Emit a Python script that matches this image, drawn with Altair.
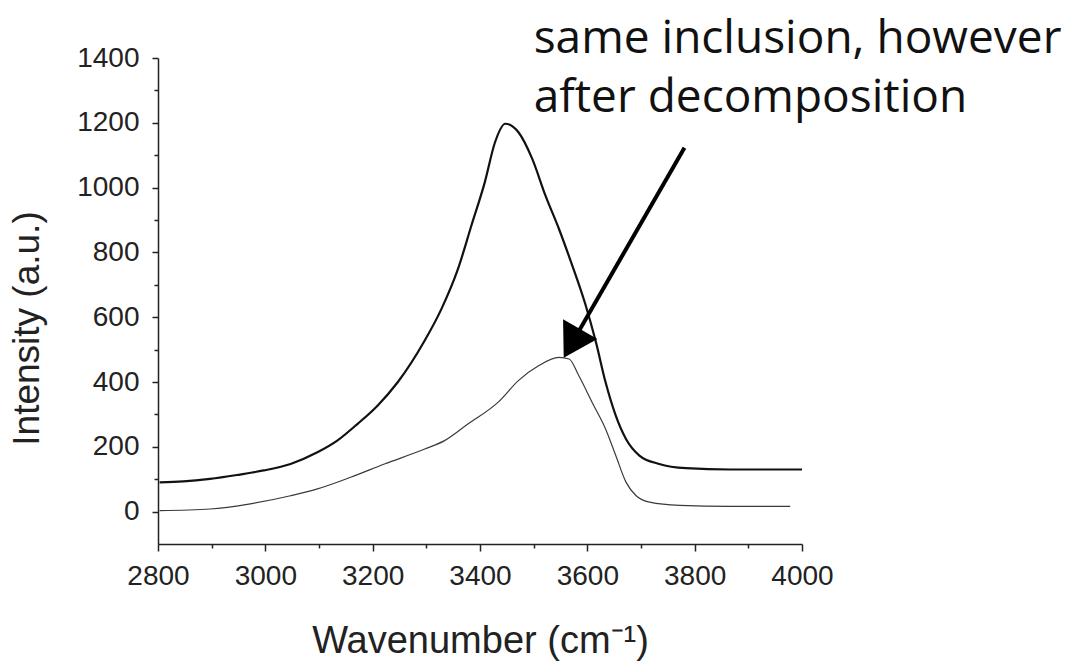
import altair as alt
import pandas as pd

# ---- data ----
upper_x = [2803, 2847, 2897, 2947, 2997, 3047, 3097, 3134, 3172, 3209, 3247, 3297,
           3328, 3359, 3384, 3409, 3428, 3447, 3472, 3497, 3522, 3547, 3572, 3597,
           3616, 3634, 3653, 3672, 3697, 3734, 3784, 3866, 4000]
upper_y = [90, 93, 101, 113, 127, 147, 183, 219, 271, 327, 400, 528,
           625, 749, 883, 1017, 1140, 1197, 1170, 1090, 975, 873, 759, 636,
           523, 399, 296, 224, 173, 147, 134, 130, 130]

lower_x = [2803, 2897, 2972, 3047, 3097, 3159, 3222, 3297, 3334, 3378, 3434, 3472,
           3509, 3547, 3566, 3584, 3609, 3634, 3653, 3672, 3691, 3716, 3772, 3866, 3978]
lower_y = [3, 8, 24, 49, 70, 106, 147, 193, 219, 271, 338, 405,
           450, 476, 471, 420, 337, 255, 173, 91, 49, 29, 19, 16, 16]

x_major = [2800, 3000, 3200, 3400, 3600, 3800, 4000]
x_minor = [2900, 3100, 3300, 3500, 3700, 3900]
y_major = [0, 200, 400, 600, 800, 1000, 1200, 1400]
y_minor = [100, 300, 500, 700, 900, 1100, 1300]

annot_lines = ["same inclusion, however", "after decomposition"]
annot_x = [3500, 3500]
annot_y = [1415, 1234]

arrow_x = [3781, 3565]   # shaft tail, shaft end
arrow_y = [1123, 502]
head_x = [3556]
head_y = [475]

# ---- tables ----
df_up = pd.DataFrame({"wavenumber": upper_x, "intensity": upper_y})
df_low = pd.DataFrame({"wavenumber": lower_x, "intensity": lower_y})
df_txt = pd.DataFrame({"x": annot_x, "y": annot_y, "label": annot_lines})
df_shaft = pd.DataFrame({"x": [arrow_x[0]], "y": [arrow_y[0]],
                         "x2": [arrow_x[1]], "y2": [arrow_y[1]]})
df_head = pd.DataFrame({"x": head_x, "y": head_y})

xscale = alt.Scale(domain=[2800, 4000], nice=False, zero=False)
yscale = alt.Scale(domain=[-100, 1400], nice=False, zero=False)

INK = "#222222"
AX_FONT = "Liberation Sans"

major_x = alt.Axis(orient="bottom", values=x_major, format="d", grid=False,
                   tickSize=7, tickWidth=1.5, tickColor=INK,
                   domainColor=INK, domainWidth=1.5,
                   labelFont=AX_FONT, labelFontSize=28, labelColor=INK,
                   labelPadding=11, labelOverlap=False, labelFlush=False,
                   title="Wavenumber (cm⁻¹)", titleFont=AX_FONT,
                   titleFontSize=38, titleFontWeight="normal", titleColor=INK,
                   titleBaseline="alphabetic", titleY=108)
major_y = alt.Axis(orient="left", values=y_major, format="d", grid=False,
                   tickSize=6, tickWidth=1.5, tickColor=INK,
                   domainColor=INK, domainWidth=1.5,
                   labelFont=AX_FONT, labelFontSize=28, labelColor=INK,
                   labelPadding=13, labelOverlap=False, labelFlush=False,
                   title="Intensity (a.u.)", titleFont=AX_FONT,
                   titleFontSize=37, titleFontWeight="normal", titleColor=INK,
                   titleAngle=270, titleAlign="center", titleBaseline="alphabetic",
                   titleX=-120, titleY=270)
minor_x = alt.Axis(orient="bottom", values=x_minor, labels=False, domain=False,
                   grid=False, tickSize=4, tickWidth=1.5, tickColor=INK, title=None)
minor_y = alt.Axis(orient="left", values=y_minor, labels=False, domain=False,
                   grid=False, tickSize=4, tickWidth=1.5, tickColor=INK, title=None)

upper = alt.Chart(df_up).mark_line(color="#111111", strokeWidth=2.2,
                                   interpolate="monotone").encode(
    x=alt.X("wavenumber:Q", scale=xscale, axis=major_x),
    y=alt.Y("intensity:Q", scale=yscale, axis=major_y),
)
lower = alt.Chart(df_low).mark_line(color="#3a3a3a", strokeWidth=1.2,
                                    interpolate="monotone").encode(
    x=alt.X("wavenumber:Q", scale=xscale, axis=minor_x),
    y=alt.Y("intensity:Q", scale=yscale, axis=minor_y),
)
shaft = alt.Chart(df_shaft).mark_rule(color="black", strokeWidth=4).encode(
    x=alt.X("x:Q", scale=xscale, axis=None),
    y=alt.Y("y:Q", scale=yscale, axis=None),
    x2="x2:Q", y2="y2:Q",
)
head = alt.Chart(df_head).mark_point(shape="M0,0 L0.6,1 L-0.6,1 Z", filled=True,
                                     size=4356, angle=210, color="black",
                                     opacity=1, strokeWidth=0).encode(
    x=alt.X("x:Q", scale=xscale, axis=None),
    y=alt.Y("y:Q", scale=yscale, axis=None),
)
text = alt.Chart(df_txt).mark_text(align="left", baseline="alphabetic",
                                   font="Open Sans", fontSize=46,
                                   color="#111111").encode(
    x=alt.X("x:Q", scale=xscale, axis=None),
    y=alt.Y("y:Q", scale=yscale, axis=None),
    text="label:N",
)

chart = alt.layer(upper, lower, shaft, head, text).resolve_axis(
    x="independent", y="independent"
).properties(
    width=644, height=486,
    autosize=alt.AutoSizeParams(type="none"),
    padding={"left": 150, "top": 50, "right": 266, "bottom": 118},
    background="white",
).configure_view(stroke=None)

chart.save("out.html", embed_options={"renderer": "svg", "actions": False})
